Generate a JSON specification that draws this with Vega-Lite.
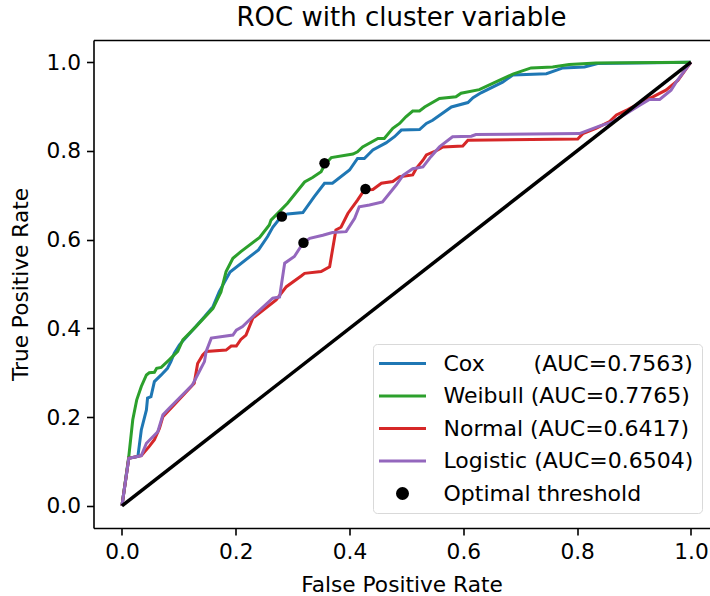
{
  "$schema": "https://vega.github.io/schema/vega-lite/v6.json",
  "width": 616,
  "height": 488,
  "autosize": "none",
  "padding": {"left": 93.5, "top": 40, "right": 0.5, "bottom": 68},
  "background": "white",
  "config": {
    "font": "DejaVu Sans",
    "view": {"stroke": null},
    "axis": {
      "domainColor": "black", "domainWidth": 1.6, "tickColor": "black", "tickWidth": 1.6, "tickSize": 7,
      "labelFontSize": 21.7, "labelColor": "black", "labelFont": "DejaVu Sans",
      "titleFont": "DejaVu Sans", "titleFontSize": 21.7, "titleFontWeight": "normal", "titleColor": "black",
      "grid": false
    }
  },
  "title": {"text": "ROC with cluster variable", "fontSize": 26, "fontWeight": "normal", "color": "black", "font": "DejaVu Sans", "offset": 9, "anchor": "middle"},
  "datasets": {
    "curves": [
      {"model":"Cox","fpr":0,"tpr":0},{"model":"Cox","fpr":0.012,"tpr":0.107},{"model":"Cox","fpr":0.028,"tpr":0.111},{"model":"Cox","fpr":0.034,"tpr":0.171},{"model":"Cox","fpr":0.043,"tpr":0.216},{"model":"Cox","fpr":0.045,"tpr":0.243},{"model":"Cox","fpr":0.051,"tpr":0.246},{"model":"Cox","fpr":0.057,"tpr":0.28},{"model":"Cox","fpr":0.069,"tpr":0.295},{"model":"Cox","fpr":0.08,"tpr":0.31},{"model":"Cox","fpr":0.086,"tpr":0.325},{"model":"Cox","fpr":0.092,"tpr":0.344},{"model":"Cox","fpr":0.101,"tpr":0.363},{"model":"Cox","fpr":0.124,"tpr":0.396},{"model":"Cox","fpr":0.145,"tpr":0.426},{"model":"Cox","fpr":0.16,"tpr":0.449},{"model":"Cox","fpr":0.171,"tpr":0.483},{"model":"Cox","fpr":0.19,"tpr":0.527},{"model":"Cox","fpr":0.24,"tpr":0.577},{"model":"Cox","fpr":0.256,"tpr":0.607},{"model":"Cox","fpr":0.265,"tpr":0.628},{"model":"Cox","fpr":0.28,"tpr":0.652},{"model":"Cox","fpr":0.291,"tpr":0.658},{"model":"Cox","fpr":0.318,"tpr":0.661},{"model":"Cox","fpr":0.338,"tpr":0.697},{"model":"Cox","fpr":0.356,"tpr":0.727},{"model":"Cox","fpr":0.37,"tpr":0.727},{"model":"Cox","fpr":0.4,"tpr":0.757},{"model":"Cox","fpr":0.414,"tpr":0.783},{"model":"Cox","fpr":0.426,"tpr":0.783},{"model":"Cox","fpr":0.441,"tpr":0.802},{"model":"Cox","fpr":0.464,"tpr":0.818},{"model":"Cox","fpr":0.479,"tpr":0.832},{"model":"Cox","fpr":0.491,"tpr":0.847},{"model":"Cox","fpr":0.523,"tpr":0.848},{"model":"Cox","fpr":0.535,"tpr":0.862},{"model":"Cox","fpr":0.546,"tpr":0.869},{"model":"Cox","fpr":0.579,"tpr":0.899},{"model":"Cox","fpr":0.608,"tpr":0.909},{"model":"Cox","fpr":0.617,"tpr":0.92},{"model":"Cox","fpr":0.631,"tpr":0.931},{"model":"Cox","fpr":0.669,"tpr":0.955},{"model":"Cox","fpr":0.687,"tpr":0.971},{"model":"Cox","fpr":0.746,"tpr":0.974},{"model":"Cox","fpr":0.775,"tpr":0.987},{"model":"Cox","fpr":0.813,"tpr":0.989},{"model":"Cox","fpr":0.836,"tpr":0.997},{"model":"Cox","fpr":1,"tpr":1},
      {"model":"Weibull","fpr":0,"tpr":0},{"model":"Weibull","fpr":0.012,"tpr":0.111},{"model":"Weibull","fpr":0.019,"tpr":0.194},{"model":"Weibull","fpr":0.026,"tpr":0.239},{"model":"Weibull","fpr":0.034,"tpr":0.269},{"model":"Weibull","fpr":0.043,"tpr":0.295},{"model":"Weibull","fpr":0.048,"tpr":0.3},{"model":"Weibull","fpr":0.057,"tpr":0.301},{"model":"Weibull","fpr":0.061,"tpr":0.31},{"model":"Weibull","fpr":0.069,"tpr":0.312},{"model":"Weibull","fpr":0.083,"tpr":0.329},{"model":"Weibull","fpr":0.098,"tpr":0.348},{"model":"Weibull","fpr":0.107,"tpr":0.374},{"model":"Weibull","fpr":0.13,"tpr":0.404},{"model":"Weibull","fpr":0.16,"tpr":0.445},{"model":"Weibull","fpr":0.174,"tpr":0.482},{"model":"Weibull","fpr":0.183,"tpr":0.528},{"model":"Weibull","fpr":0.195,"tpr":0.558},{"model":"Weibull","fpr":0.209,"tpr":0.573},{"model":"Weibull","fpr":0.242,"tpr":0.605},{"model":"Weibull","fpr":0.259,"tpr":0.633},{"model":"Weibull","fpr":0.262,"tpr":0.644},{"model":"Weibull","fpr":0.291,"tpr":0.682},{"model":"Weibull","fpr":0.321,"tpr":0.73},{"model":"Weibull","fpr":0.335,"tpr":0.74},{"model":"Weibull","fpr":0.35,"tpr":0.753},{"model":"Weibull","fpr":0.356,"tpr":0.768},{"model":"Weibull","fpr":0.368,"tpr":0.785},{"model":"Weibull","fpr":0.406,"tpr":0.793},{"model":"Weibull","fpr":0.414,"tpr":0.798},{"model":"Weibull","fpr":0.423,"tpr":0.809},{"model":"Weibull","fpr":0.45,"tpr":0.828},{"model":"Weibull","fpr":0.461,"tpr":0.828},{"model":"Weibull","fpr":0.476,"tpr":0.851},{"model":"Weibull","fpr":0.488,"tpr":0.862},{"model":"Weibull","fpr":0.499,"tpr":0.877},{"model":"Weibull","fpr":0.511,"tpr":0.89},{"model":"Weibull","fpr":0.523,"tpr":0.89},{"model":"Weibull","fpr":0.532,"tpr":0.899},{"model":"Weibull","fpr":0.558,"tpr":0.918},{"model":"Weibull","fpr":0.587,"tpr":0.922},{"model":"Weibull","fpr":0.596,"tpr":0.93},{"model":"Weibull","fpr":0.628,"tpr":0.938},{"model":"Weibull","fpr":0.663,"tpr":0.959},{"model":"Weibull","fpr":0.687,"tpr":0.973},{"model":"Weibull","fpr":0.719,"tpr":0.987},{"model":"Weibull","fpr":0.757,"tpr":0.989},{"model":"Weibull","fpr":0.786,"tpr":0.995},{"model":"Weibull","fpr":0.833,"tpr":0.998},{"model":"Weibull","fpr":1,"tpr":1},
      {"model":"Normal","fpr":0,"tpr":0},{"model":"Normal","fpr":0.012,"tpr":0.107},{"model":"Normal","fpr":0.034,"tpr":0.113},{"model":"Normal","fpr":0.048,"tpr":0.134},{"model":"Normal","fpr":0.057,"tpr":0.149},{"model":"Normal","fpr":0.066,"tpr":0.175},{"model":"Normal","fpr":0.072,"tpr":0.201},{"model":"Normal","fpr":0.089,"tpr":0.224},{"model":"Normal","fpr":0.127,"tpr":0.276},{"model":"Normal","fpr":0.133,"tpr":0.321},{"model":"Normal","fpr":0.142,"tpr":0.34},{"model":"Normal","fpr":0.148,"tpr":0.348},{"model":"Normal","fpr":0.183,"tpr":0.351},{"model":"Normal","fpr":0.192,"tpr":0.36},{"model":"Normal","fpr":0.201,"tpr":0.36},{"model":"Normal","fpr":0.209,"tpr":0.375},{"model":"Normal","fpr":0.218,"tpr":0.385},{"model":"Normal","fpr":0.23,"tpr":0.423},{"model":"Normal","fpr":0.271,"tpr":0.464},{"model":"Normal","fpr":0.289,"tpr":0.494},{"model":"Normal","fpr":0.315,"tpr":0.518},{"model":"Normal","fpr":0.321,"tpr":0.524},{"model":"Normal","fpr":0.35,"tpr":0.528},{"model":"Normal","fpr":0.365,"tpr":0.539},{"model":"Normal","fpr":0.376,"tpr":0.622},{"model":"Normal","fpr":0.385,"tpr":0.628},{"model":"Normal","fpr":0.397,"tpr":0.659},{"model":"Normal","fpr":0.414,"tpr":0.689},{"model":"Normal","fpr":0.426,"tpr":0.712},{"model":"Normal","fpr":0.441,"tpr":0.713},{"model":"Normal","fpr":0.456,"tpr":0.727},{"model":"Normal","fpr":0.476,"tpr":0.731},{"model":"Normal","fpr":0.488,"tpr":0.742},{"model":"Normal","fpr":0.511,"tpr":0.746},{"model":"Normal","fpr":0.517,"tpr":0.76},{"model":"Normal","fpr":0.529,"tpr":0.779},{"model":"Normal","fpr":0.535,"tpr":0.791},{"model":"Normal","fpr":0.555,"tpr":0.802},{"model":"Normal","fpr":0.564,"tpr":0.809},{"model":"Normal","fpr":0.599,"tpr":0.811},{"model":"Normal","fpr":0.608,"tpr":0.824},{"model":"Normal","fpr":0.801,"tpr":0.827},{"model":"Normal","fpr":0.81,"tpr":0.839},{"model":"Normal","fpr":0.833,"tpr":0.851},{"model":"Normal","fpr":0.857,"tpr":0.866},{"model":"Normal","fpr":0.869,"tpr":0.881},{"model":"Normal","fpr":0.889,"tpr":0.893},{"model":"Normal","fpr":0.915,"tpr":0.911},{"model":"Normal","fpr":0.933,"tpr":0.922},{"model":"Normal","fpr":0.956,"tpr":0.937},{"model":"Normal","fpr":0.977,"tpr":0.959},{"model":"Normal","fpr":1,"tpr":1},
      {"model":"Logistic","fpr":0,"tpr":0},{"model":"Logistic","fpr":0.012,"tpr":0.107},{"model":"Logistic","fpr":0.034,"tpr":0.113},{"model":"Logistic","fpr":0.043,"tpr":0.141},{"model":"Logistic","fpr":0.063,"tpr":0.167},{"model":"Logistic","fpr":0.072,"tpr":0.205},{"model":"Logistic","fpr":0.083,"tpr":0.22},{"model":"Logistic","fpr":0.124,"tpr":0.273},{"model":"Logistic","fpr":0.13,"tpr":0.288},{"model":"Logistic","fpr":0.145,"tpr":0.325},{"model":"Logistic","fpr":0.148,"tpr":0.348},{"model":"Logistic","fpr":0.157,"tpr":0.378},{"model":"Logistic","fpr":0.195,"tpr":0.385},{"model":"Logistic","fpr":0.201,"tpr":0.396},{"model":"Logistic","fpr":0.212,"tpr":0.404},{"model":"Logistic","fpr":0.236,"tpr":0.434},{"model":"Logistic","fpr":0.265,"tpr":0.468},{"model":"Logistic","fpr":0.277,"tpr":0.471},{"model":"Logistic","fpr":0.286,"tpr":0.547},{"model":"Logistic","fpr":0.303,"tpr":0.562},{"model":"Logistic","fpr":0.318,"tpr":0.592},{"model":"Logistic","fpr":0.33,"tpr":0.603},{"model":"Logistic","fpr":0.353,"tpr":0.61},{"model":"Logistic","fpr":0.37,"tpr":0.616},{"model":"Logistic","fpr":0.394,"tpr":0.618},{"model":"Logistic","fpr":0.409,"tpr":0.648},{"model":"Logistic","fpr":0.417,"tpr":0.674},{"model":"Logistic","fpr":0.435,"tpr":0.678},{"model":"Logistic","fpr":0.458,"tpr":0.685},{"model":"Logistic","fpr":0.482,"tpr":0.723},{"model":"Logistic","fpr":0.494,"tpr":0.745},{"model":"Logistic","fpr":0.511,"tpr":0.76},{"model":"Logistic","fpr":0.529,"tpr":0.764},{"model":"Logistic","fpr":0.543,"tpr":0.787},{"model":"Logistic","fpr":0.558,"tpr":0.809},{"model":"Logistic","fpr":0.581,"tpr":0.832},{"model":"Logistic","fpr":0.614,"tpr":0.833},{"model":"Logistic","fpr":0.622,"tpr":0.837},{"model":"Logistic","fpr":0.804,"tpr":0.839},{"model":"Logistic","fpr":0.839,"tpr":0.856},{"model":"Logistic","fpr":0.863,"tpr":0.866},{"model":"Logistic","fpr":0.886,"tpr":0.884},{"model":"Logistic","fpr":0.91,"tpr":0.903},{"model":"Logistic","fpr":0.927,"tpr":0.916},{"model":"Logistic","fpr":0.945,"tpr":0.916},{"model":"Logistic","fpr":0.965,"tpr":0.937},{"model":"Logistic","fpr":0.974,"tpr":0.955},{"model":"Logistic","fpr":1,"tpr":1}
    ],
    "optimal": [
      {"model":"Cox","fpr":0.281,"tpr":0.652},
      {"model":"Weibull","fpr":0.356,"tpr":0.772},
      {"model":"Normal","fpr":0.428,"tpr":0.714},
      {"model":"Logistic","fpr":0.319,"tpr":0.593}
    ],
    "chance": [{"fpr":0,"tpr":0},{"fpr":1,"tpr":1}]
  },
  "layer": [
    {
      "data": {"name": "curves"},
      "mark": {"type": "line", "strokeWidth": 3},
      "encoding": {
        "x": {"field": "fpr", "type": "quantitative", "scale": {"domain": [-0.05, 1.0326], "nice": false, "zero": false},
              "axis": {"orient": "bottom", "values": [0, 0.2, 0.4, 0.6, 0.8, 1], "format": ".1f", "labelPadding": 6, "title": "False Positive Rate", "titlePadding": 12}},
        "y": {"field": "tpr", "type": "quantitative", "scale": {"domain": [-0.05, 1.05], "nice": false, "zero": false},
              "axis": {"values": [0, 0.2, 0.4, 0.6, 0.8, 1], "format": ".1f", "labelPadding": 6, "title": "True Positive Rate", "titlePadding": 14}},
        "color": {
          "field": "model", "type": "nominal",
          "scale": {"domain": ["Cox", "Weibull", "Normal", "Logistic", "Optimal threshold"], "range": ["#1f77b4", "#2ca02c", "#d62728", "#9467bd", "#000000"]},
          "legend": {
            "orient": "none", "legendX": 279.5, "legendY": 304, "title": null,
            "symbolType": "stroke", "symbolSize": 400, "symbolStrokeWidth": 3, "symbolOffset": 10,
            "labelFontSize": 22, "labelFont": "DejaVu Sans", "labelColor": "black", "labelOffset": 29.5, "labelLimit": 400,
            "rowPadding": 9.5, "padding": 8, "strokeColor": "#d9d9d9", "fillColor": "white", "cornerRadius": 4,
            "labelExpr": "datum.value == 'Cox' ? 'Cox\u00a0\u00a0\u00a0\u00a0\u00a0\u00a0\u00a0(AUC=0.7563)' : datum.value == 'Weibull' ? 'Weibull (AUC=0.7765)' : datum.value == 'Normal' ? 'Normal (AUC=0.6417)' : datum.value == 'Logistic' ? 'Logistic (AUC=0.6504)' : datum.value",
            "encode": {
              "symbols": {
                "update": {
                  "shape": {"signal": "datum.value === 'Optimal threshold' ? 'M-0.5,0A0.5,0.5,0,1,1,0.5,0A0.5,0.5,0,1,1,-0.5,0Z' : 'M-2.35,0L2.35,0'"},
                  "fill": {"signal": "datum.value === 'Optimal threshold' ? 'black' : 'transparent'"},
                  "stroke": {"signal": "datum.value === 'Optimal threshold' ? 'transparent' : scale('color', datum.value)"},
                  "strokeWidth": {"value": 3},
                  "opacity": {"value": 1}
                }
              }
            }
          }
        }
      }
    },
    {
      "data": {"name": "chance"},
      "mark": {"type": "line", "color": "black", "strokeWidth": 3.5},
      "encoding": {
        "x": {"field": "fpr", "type": "quantitative", "scale": {"domain": [-0.05, 1.0326], "nice": false, "zero": false},
              "axis": {"orient": "top", "labels": false, "ticks": false, "title": null, "domain": true}},
        "y": {"field": "tpr", "type": "quantitative", "scale": {"domain": [-0.05, 1.05], "nice": false, "zero": false}}
      }
    },
    {
      "data": {"name": "optimal"},
      "mark": {"type": "point", "filled": true, "size": 110, "opacity": 1},
      "encoding": {
        "x": {"field": "fpr", "type": "quantitative", "axis": null},
        "y": {"field": "tpr", "type": "quantitative"},
        "color": {"datum": "Optimal threshold"}
      }
    }
  ],
  "resolve": {"axis": {"x": "independent"}}
}
